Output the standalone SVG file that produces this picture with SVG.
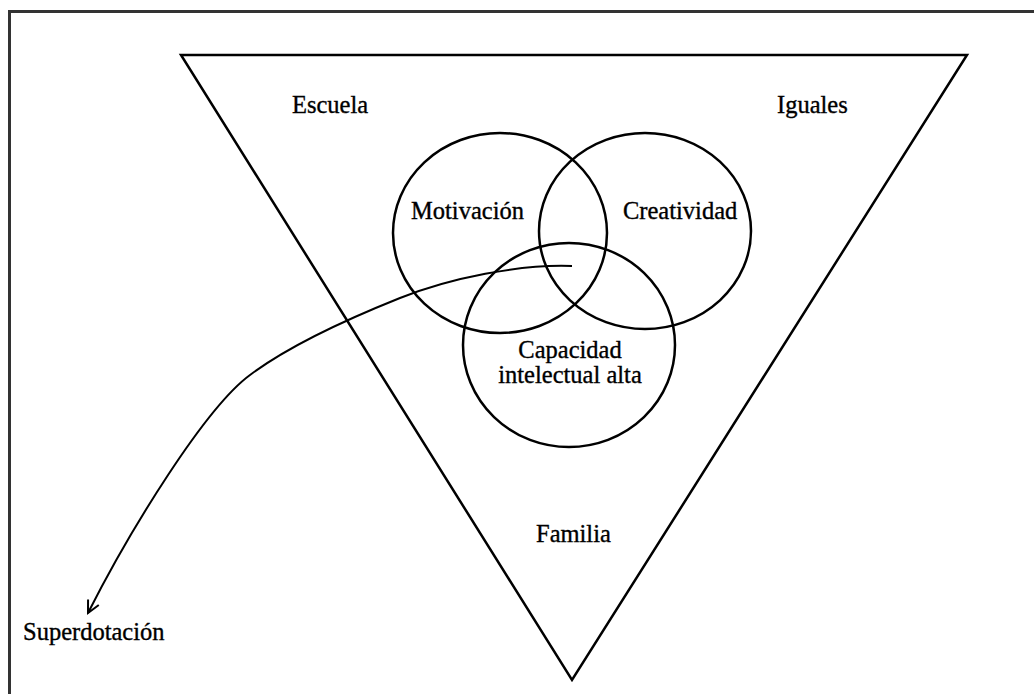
<svg xmlns="http://www.w3.org/2000/svg" width="1034" height="694" viewBox="0 0 1034 694">
<style>
.shape{fill:none;stroke:#000;stroke-width:2.5}
.lbl{font-family:"Liberation Serif","Times New Roman",serif;font-size:24.5px;fill:#000;stroke:#000;stroke-width:0.35}
.conn{fill:none;stroke:#000;stroke-width:2}
</style>
<defs>
<marker id="arr" markerWidth="16" markerHeight="16" refX="14" refY="8" orient="auto" markerUnits="userSpaceOnUse">
<path d="M2,2 L14,8 L2,14" fill="none" stroke="#000" stroke-width="2"/>
</marker>
</defs>
<rect width="1034" height="694" fill="#fff"/>
<rect x="9.5" y="11.5" width="1040" height="700" fill="none" stroke="#333" stroke-width="3"/>
<g id="triangle"><path class="shape" d="M181,55 L967,55 L572,680 Z"/></g>
<g id="escuela"><text class="lbl" x="292" y="113">Escuela</text></g>
<g id="iguales"><text class="lbl" x="777" y="113">Iguales</text></g>
<g id="familia"><text class="lbl" x="536" y="542">Familia</text></g>
<g id="motivacion"><ellipse class="shape" cx="500" cy="233" rx="107" ry="100"/><text class="lbl" x="411" y="219">Motivación</text></g>
<g id="creatividad"><ellipse class="shape" cx="645" cy="231" rx="106" ry="98"/><text class="lbl" x="623" y="219">Creatividad</text></g>
<g id="capacidad"><ellipse class="shape" cx="569" cy="345" rx="106" ry="102"/><text class="lbl" text-anchor="middle" x="570" y="358">Capacidad</text><text class="lbl" text-anchor="middle" x="570" y="383">intelectual alta</text></g>
<g id="superdotacion"><text class="lbl" x="23" y="640">Superdotación</text></g>
<g id="connectors"><path class="conn" marker-end="url(#arr)" d="M572,266 C520,264 450,278 400,298 C350,318 290,345 250,375 C205,408 130,530 88,613"/></g>
</svg>
